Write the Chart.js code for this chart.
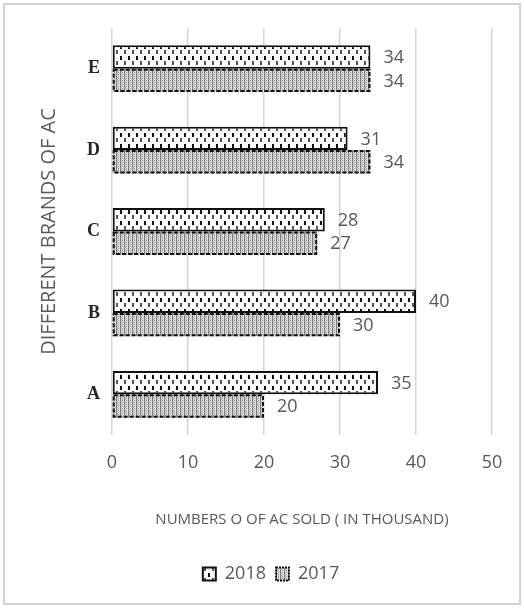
<!DOCTYPE html>
<html>
<head>
<meta charset="utf-8">
<script src="https://cdn.jsdelivr.net/npm/chart.js@4/dist/chart.umd.min.js"></script>
<style>
  html, body { margin: 0; padding: 0; background: #ffffff; }
  #wrap { position: relative; width: 524px; height: 608px; }
  canvas { display: block; }
</style>
</head>
<body>
<div id="wrap"><canvas id="c" width="524" height="608"></canvas></div>
<script>
// ---- data ----
const categories = ['A', 'B', 'C', 'D', 'E'];
const seriesNames = ['2018', '2017'];
const values2018 = [35, 40, 28, 31, 34];
const values2017 = [20, 30, 27, 34, 34];
const xTicks = [0, 10, 20, 30, 40, 50];
const xTitle = 'NUMBERS O OF AC SOLD ( IN THOUSAND)';
const yTitle = 'DIFFERENT BRANDS OF AC';

// ---- patterns ----
function makePattern(w, h, draw) {
  const c = document.createElement('canvas');
  c.width = w; c.height = h;
  const g = c.getContext('2d');
  draw(g);
  return g.createPattern(c, 'repeat');
}
const ctx = document.getElementById('c').getContext('2d');
const pat2018 = makePattern(8, 11, g => {
  g.fillStyle = '#ffffff'; g.fillRect(0, 0, 8, 11);
  g.fillStyle = '#111111'; g.fillRect(0, 1, 2, 4);
  g.fillStyle = '#555555'; g.fillRect(4, 6, 2, 4);
});
const pat2017 = makePattern(4, 2, g => {
  g.fillStyle = '#dedede'; g.fillRect(0, 0, 4, 2);
  g.fillStyle = '#7a7a7a'; g.fillRect(0, 0, 1, 2);
  g.fillStyle = '#a0a0a0'; g.fillRect(2, 0, 1, 1);
  g.fillStyle = '#bcbcbc'; g.fillRect(1, 1, 1, 1);
});

const TEXT = '#595959';

// frame + white background
const framePlugin = {
  id: 'frame',
  beforeDraw(chart) {
    const c = chart.ctx;
    c.save();
    c.fillStyle = '#ffffff';
    c.fillRect(0, 0, chart.width, chart.height);
    c.strokeStyle = '#d4d4d4';
    c.lineWidth = 2;
    c.strokeRect(4, 4, chart.width - 8, chart.height - 8);
    c.restore();
  }
};

// dashed border for 2017 bars + value labels
const barExtras = {
  id: 'barExtras',
  afterDatasetsDraw(chart) {
    const c = chart.ctx;
    c.save();
    const m1 = chart.getDatasetMeta(1);
    c.strokeStyle = '#111111';
    c.lineWidth = 2;
    c.setLineDash([4, 2]);
    m1.data.forEach(el => {
      const p = el.getProps(['x', 'y', 'base', 'height'], true);
      const top = p.y - p.height / 2;
      c.strokeRect(p.base + 1, top + 1, p.x - p.base - 2, p.height - 2);
    });
    c.setLineDash([]);
    c.fillStyle = TEXT;
    c.font = '18px "Open Sans"';
    c.textAlign = 'left';
    c.textBaseline = 'middle';
    chart.data.datasets.forEach((ds, i) => {
      const meta = chart.getDatasetMeta(i);
      meta.data.forEach((el, j) => {
        const p = el.getProps(['x', 'y'], true);
        c.fillText(String(ds.data[j]), p.x + 13, p.y + 1);
      });
    });
    c.restore();
  }
};

new Chart(ctx, {
  type: 'bar',
  data: {
    labels: categories,
    datasets: [
      {
        label: seriesNames[0],
        data: values2018,
        backgroundColor: pat2018,
        borderColor: '#111111',
        borderWidth: 2,
        borderSkipped: false,
        barPercentage: 1.0,
        categoryPercentage: 0.575
      },
      {
        label: seriesNames[1],
        data: values2017,
        backgroundColor: pat2017,
        borderWidth: 0,
        barPercentage: 1.0,
        categoryPercentage: 0.575
      }
    ]
  },
  options: {
    indexAxis: 'y',
    responsive: false,
    devicePixelRatio: 1,
    animation: false,
    layout: { padding: { top: 28, left: 50, right: 32, bottom: 15 } },
    plugins: {
      tooltip: { enabled: false },
      legend: {
        position: 'bottom',
        labels: {
          color: TEXT,
          font: { family: 'Open Sans', size: 18 },
          boxWidth: 13,
          boxHeight: 13,
          padding: 10,
          generateLabels(chart) {
            const items = Chart.defaults.plugins.legend.labels.generateLabels(chart);
            items.forEach((it, i) => {
              it.strokeStyle = '#111111';
              it.lineWidth = 2;
              if (i === 1) it.lineDash = [2, 1];
            });
            return items;
          }
        }
      }
    },
    scales: {
      x: {
        type: 'linear',
        min: xTicks[0],
        max: xTicks[xTicks.length - 1],
        afterBuildTicks(scale) { scale.ticks = xTicks.map(v => ({ value: v })); },
        afterFit(scale) { scale.height = 120; },
        grid: { color: '#d6d6d6', lineWidth: 1.5, drawTicks: false },
        border: { display: false },
        ticks: { color: TEXT, font: { family: 'Open Sans', size: 18 }, padding: 17 },
        title: {
          display: true,
          text: xTitle,
          color: TEXT,
          font: { family: 'Open Sans', size: 15 },
          padding: { top: 0, bottom: 26 }
        }
      },
      y: {
        type: 'category',
        reverse: true,
        afterFit(scale) { scale.width = 62; },
        grid: { display: false, drawTicks: false },
        border: { display: false },
        ticks: { color: '#262626', font: { family: 'Liberation Serif', size: 18, weight: 'bold' }, padding: 12 },
        title: {
          display: true,
          text: yTitle,
          color: TEXT,
          font: { family: 'Open Sans', size: 20 },
          padding: { top: -13, bottom: 0 }
        }
      }
    }
  },
  plugins: [framePlugin, barExtras]
});
</script>
</body>
</html>
